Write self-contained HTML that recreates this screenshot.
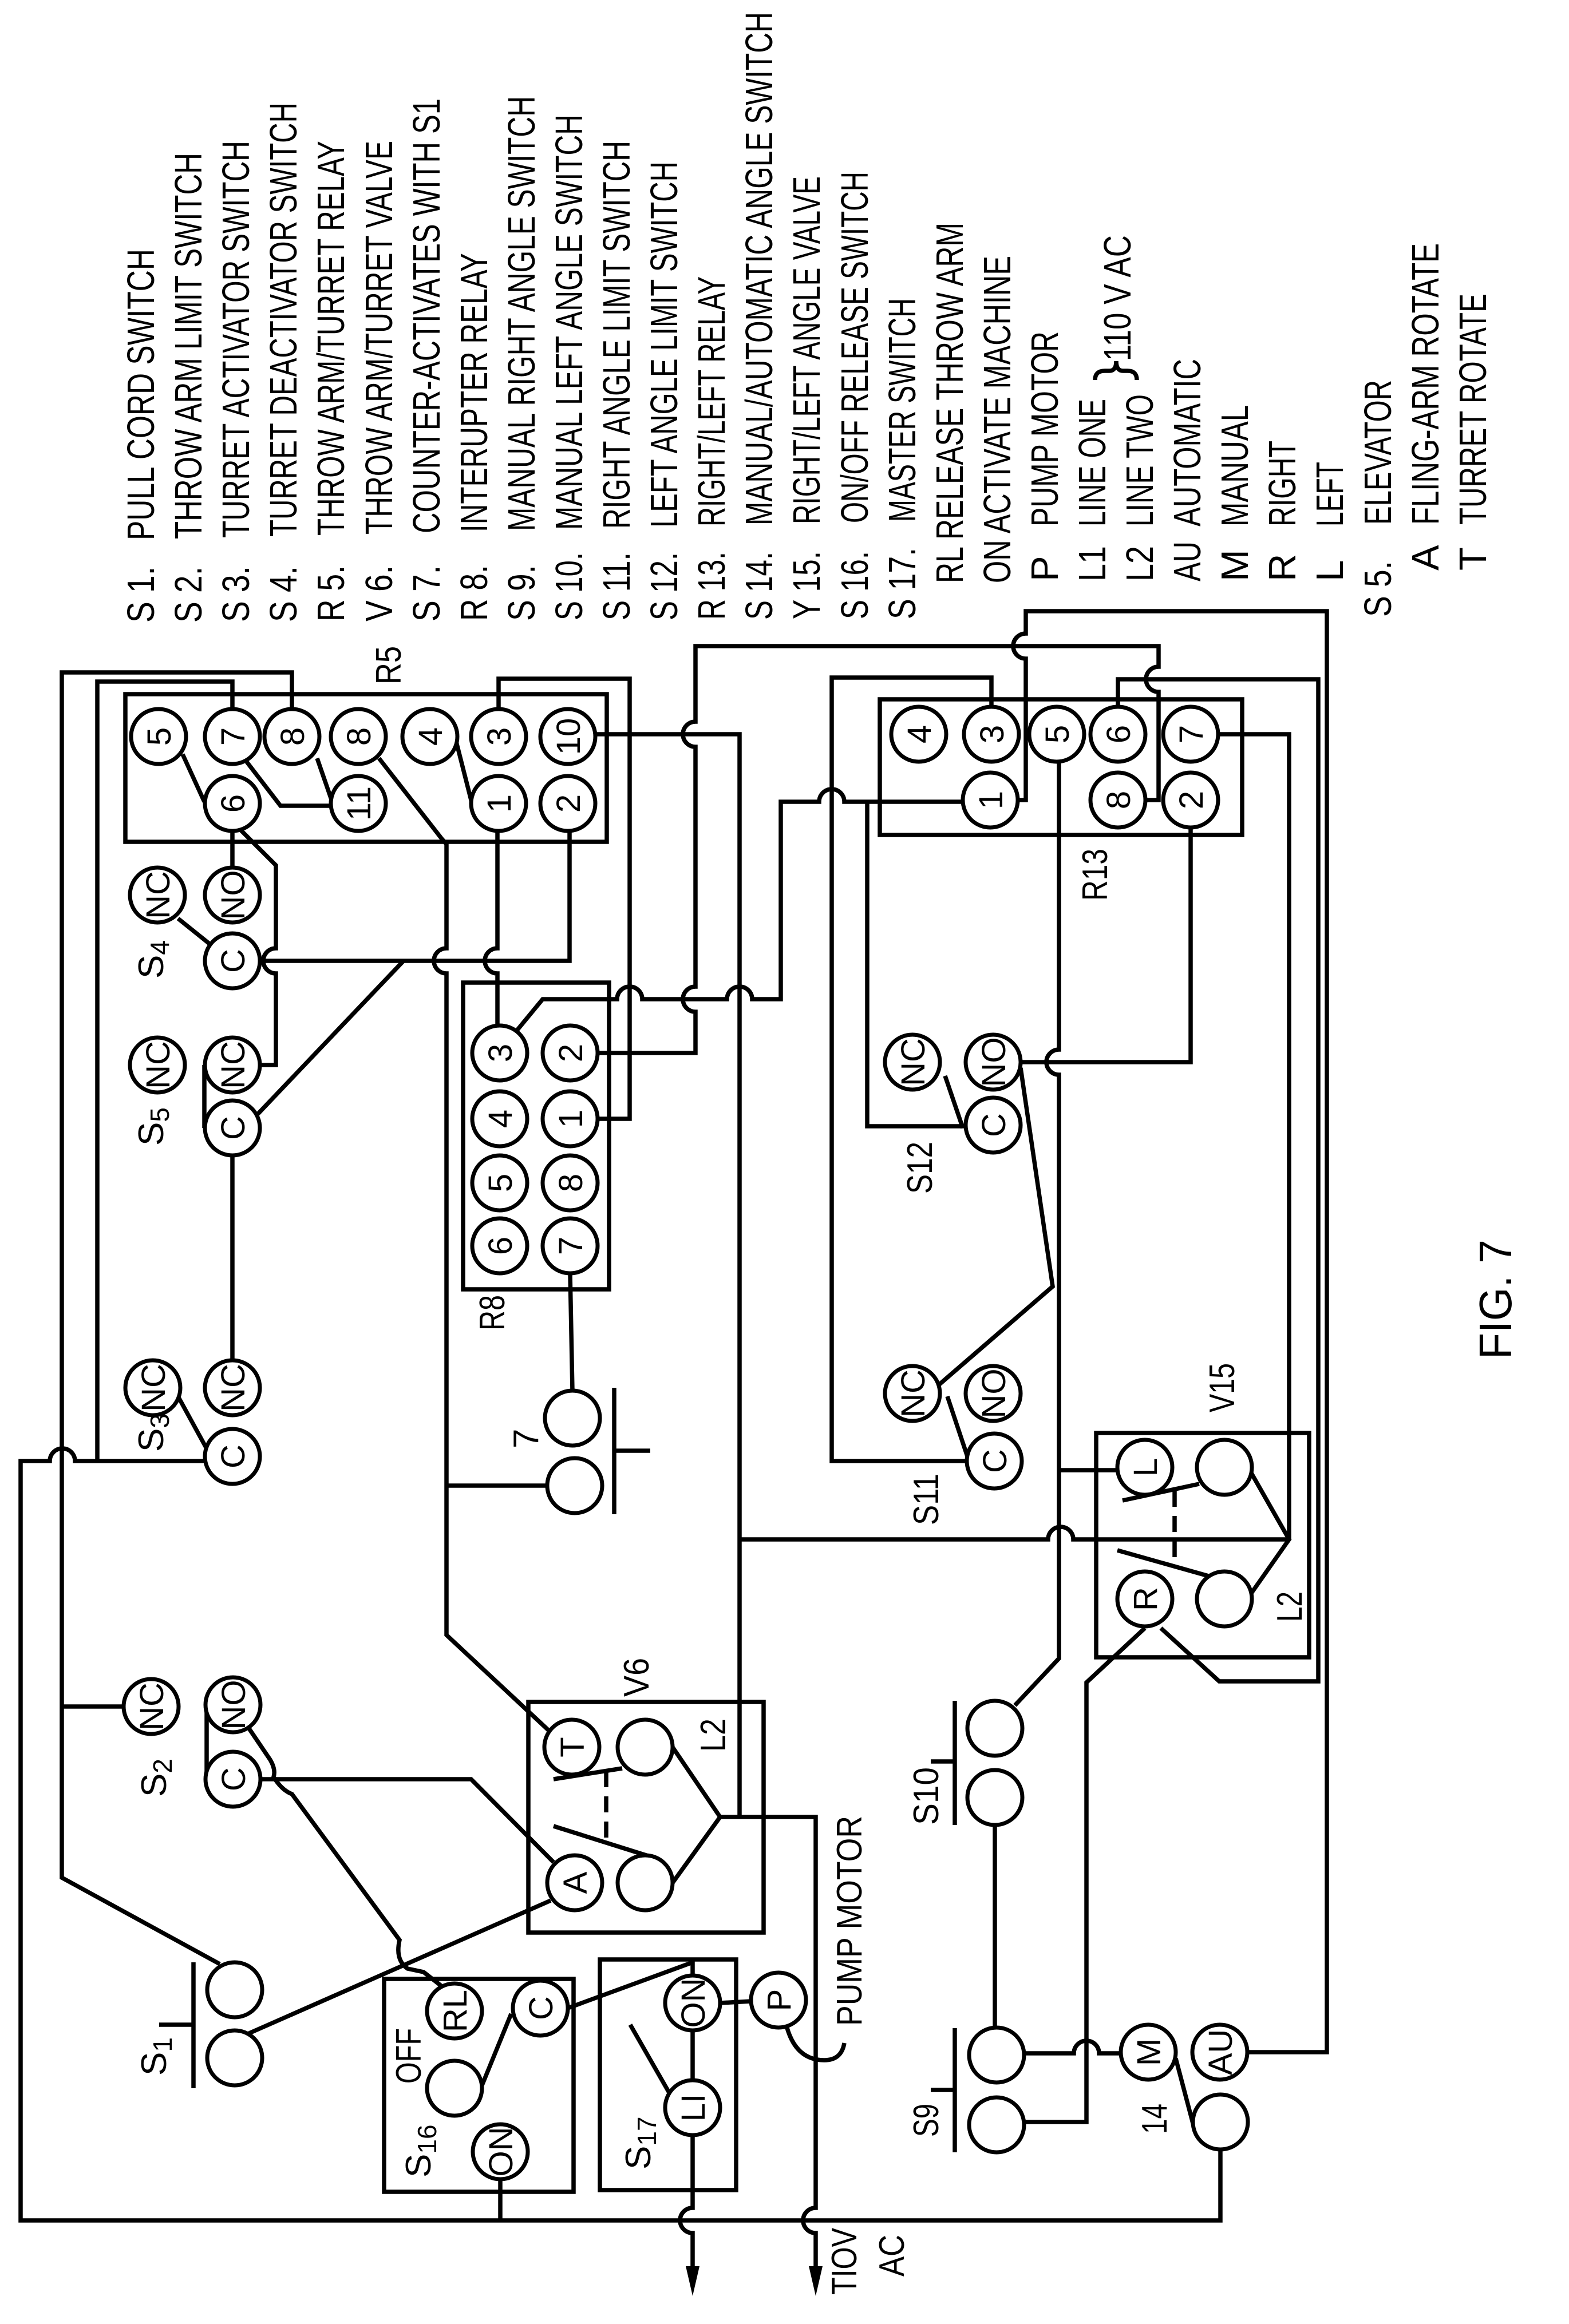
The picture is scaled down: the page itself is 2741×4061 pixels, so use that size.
<!DOCTYPE html>
<html><head><meta charset="utf-8"><style>
html,body{margin:0;padding:0;background:#fff}
svg{display:block}
.w{fill:none;stroke:#000;stroke-width:7.5;stroke-linejoin:miter}
.c{fill:#fff;stroke:#000;stroke-width:7}
text{font-family:"Liberation Sans",sans-serif;fill:#000}
.ct{font-size:58px;text-anchor:middle}
</style></head><body>
<svg width="2741" height="4061" viewBox="0 0 2741 4061" xmlns="http://www.w3.org/2000/svg">
<rect width="2741" height="4061" fill="#fff"/>

<!-- LEGEND -->
<g font-size="67">
<text transform="translate(269,1088) rotate(-90)" textLength="98" lengthAdjust="spacingAndGlyphs">S 1.</text>
<text transform="translate(269,944) rotate(-90)" textLength="509" lengthAdjust="spacingAndGlyphs">PULL CORD SWITCH</text>
<text transform="translate(352,1088) rotate(-90)" textLength="98" lengthAdjust="spacingAndGlyphs">S 2.</text>
<text transform="translate(352,942) rotate(-90)" textLength="675" lengthAdjust="spacingAndGlyphs">THROW ARM LIMIT SWITCH</text>
<text transform="translate(435,1087) rotate(-90)" textLength="98" lengthAdjust="spacingAndGlyphs">S 3.</text>
<text transform="translate(435,940) rotate(-90)" textLength="694" lengthAdjust="spacingAndGlyphs">TURRET ACTIVATOR SWITCH</text>
<text transform="translate(518,1087) rotate(-90)" textLength="98" lengthAdjust="spacingAndGlyphs">S 4.</text>
<text transform="translate(518,938) rotate(-90)" textLength="759" lengthAdjust="spacingAndGlyphs">TURRET DEACTIVATOR SWITCH</text>
<text transform="translate(601,1086) rotate(-90)" textLength="98" lengthAdjust="spacingAndGlyphs">R 5.</text>
<text transform="translate(601,936) rotate(-90)" textLength="690" lengthAdjust="spacingAndGlyphs">THROW ARM/TURRET RELAY</text>
<text transform="translate(685,1086) rotate(-90)" textLength="98" lengthAdjust="spacingAndGlyphs">V 6.</text>
<text transform="translate(685,934) rotate(-90)" textLength="688" lengthAdjust="spacingAndGlyphs">THROW ARM/TURRET VALVE</text>
<text transform="translate(768,1086) rotate(-90)" textLength="98" lengthAdjust="spacingAndGlyphs">S 7.</text>
<text transform="translate(768,932) rotate(-90)" textLength="760" lengthAdjust="spacingAndGlyphs">COUNTER-ACTIVATES WITH S1</text>
<text transform="translate(851,1085) rotate(-90)" textLength="98" lengthAdjust="spacingAndGlyphs">R 8.</text>
<text transform="translate(851,930) rotate(-90)" textLength="488" lengthAdjust="spacingAndGlyphs">INTERUPTER RELAY</text>
<text transform="translate(934,1085) rotate(-90)" textLength="98" lengthAdjust="spacingAndGlyphs">S 9.</text>
<text transform="translate(934,928) rotate(-90)" textLength="760" lengthAdjust="spacingAndGlyphs">MANUAL RIGHT ANGLE SWITCH</text>
<text transform="translate(1017,1084) rotate(-90)" textLength="119" lengthAdjust="spacingAndGlyphs">S 10.</text>
<text transform="translate(1017,926) rotate(-90)" textLength="726" lengthAdjust="spacingAndGlyphs">MANUAL LEFT ANGLE SWITCH</text>
<text transform="translate(1100,1084) rotate(-90)" textLength="119" lengthAdjust="spacingAndGlyphs">S 11.</text>
<text transform="translate(1100,924) rotate(-90)" textLength="678" lengthAdjust="spacingAndGlyphs">RIGHT ANGLE LIMIT SWITCH</text>
<text transform="translate(1183,1084) rotate(-90)" textLength="119" lengthAdjust="spacingAndGlyphs">S 12.</text>
<text transform="translate(1183,922) rotate(-90)" textLength="640" lengthAdjust="spacingAndGlyphs">LEFT ANGLE LIMIT SWITCH</text>
<text transform="translate(1266,1083) rotate(-90)" textLength="119" lengthAdjust="spacingAndGlyphs">R 13.</text>
<text transform="translate(1266,920) rotate(-90)" textLength="437" lengthAdjust="spacingAndGlyphs">RIGHT/LEFT RELAY</text>
<text transform="translate(1349,1083) rotate(-90)" textLength="119" lengthAdjust="spacingAndGlyphs">S 14.</text>
<text transform="translate(1349,918) rotate(-90)" textLength="897" lengthAdjust="spacingAndGlyphs">MANUAL/AUTOMATIC ANGLE SWITCH</text>
<text transform="translate(1432,1082) rotate(-90)" textLength="119" lengthAdjust="spacingAndGlyphs">Y 15.</text>
<text transform="translate(1432,916) rotate(-90)" textLength="608" lengthAdjust="spacingAndGlyphs">RIGHT/LEFT ANGLE VALVE</text>
<text transform="translate(1516,1082) rotate(-90)" textLength="119" lengthAdjust="spacingAndGlyphs">S 16.</text>
<text transform="translate(1516,914) rotate(-90)" textLength="614" lengthAdjust="spacingAndGlyphs">ON/OFF RELEASE SWITCH</text>
<text transform="translate(1599,1082) rotate(-90)" textLength="125" lengthAdjust="spacingAndGlyphs">S 17.</text>
<text transform="translate(1599,912) rotate(-90)" textLength="391" lengthAdjust="spacingAndGlyphs">MASTER SWITCH</text>
<text transform="translate(1682,1019) rotate(-90)" textLength="630" lengthAdjust="spacingAndGlyphs">RL RELEASE THROW ARM</text>
<text transform="translate(1765,1019) rotate(-90)" textLength="572" lengthAdjust="spacingAndGlyphs">ON ACTIVATE MACHINE</text>
<text transform="translate(1848,1016) rotate(-90)">P</text>
<text transform="translate(1848,920) rotate(-90)" textLength="341" lengthAdjust="spacingAndGlyphs">PUMP MOTOR</text>
<text transform="translate(1931,1016) rotate(-90)" textLength="62" lengthAdjust="spacingAndGlyphs">L1</text>
<text transform="translate(1931,920) rotate(-90)" textLength="223" lengthAdjust="spacingAndGlyphs">LINE ONE</text>
<text transform="translate(2014,1016) rotate(-90)" textLength="62" lengthAdjust="spacingAndGlyphs">L2</text>
<text transform="translate(2014,920) rotate(-90)" textLength="231" lengthAdjust="spacingAndGlyphs">LINE TWO</text>
<text transform="translate(1975,631) rotate(-90)" textLength="220" lengthAdjust="spacingAndGlyphs">110 V AC</text>
<text transform="translate(2097,1016) rotate(-90)" textLength="70" lengthAdjust="spacingAndGlyphs">AU</text>
<text transform="translate(2097,920) rotate(-90)" textLength="293" lengthAdjust="spacingAndGlyphs">AUTOMATIC</text>
<text transform="translate(2180,1016) rotate(-90)">M</text>
<text transform="translate(2180,920) rotate(-90)" textLength="212" lengthAdjust="spacingAndGlyphs">MANUAL</text>
<text transform="translate(2263,1016) rotate(-90)">R</text>
<text transform="translate(2263,920) rotate(-90)" textLength="150" lengthAdjust="spacingAndGlyphs">RIGHT</text>
<text transform="translate(2346,1016) rotate(-90)">L</text>
<text transform="translate(2346,920) rotate(-90)" textLength="113" lengthAdjust="spacingAndGlyphs">LEFT</text>
<text transform="translate(2430,1078) rotate(-90)" textLength="98" lengthAdjust="spacingAndGlyphs">S 5.</text>
<text transform="translate(2430,917) rotate(-90)" textLength="253" lengthAdjust="spacingAndGlyphs">ELEVATOR</text>
<text transform="translate(2513,997) rotate(-90)">A</text>
<text transform="translate(2513,917) rotate(-90)" textLength="492" lengthAdjust="spacingAndGlyphs">FLING-ARM ROTATE</text>
<text transform="translate(2596,997) rotate(-90)">T</text>
<text transform="translate(2596,917) rotate(-90)" textLength="404" lengthAdjust="spacingAndGlyphs">TURRET ROTATE</text>
</g>
<path class="w" stroke-width="5" d="M1913,664 Q1913,648 1930,648 L1938,648 Q1950,648 1950,631 Q1950,648 1962,648 L1970,648 Q1986,648 1986,664"/>

<text transform="translate(2640,2375) rotate(-90)" font-size="80" textLength="209" lengthAdjust="spacingAndGlyphs">FIG. 7</text>

<!-- WIRES -->
<g class="w">
<path d="M358,2553 L131,2553 A22,22 0 0 0 87,2553 L36,2553 L36,3880 L2132,3880 L2132,3756"/>
<path d="M510,1239 L510,1175 L108,1175 L108,3281 L384,3432"/>
<path d="M406,1239 L406,1191 L170,1191 L170,2553"/>
<path d="M108,2982 L216,2982"/>
<path d="M311,1605 L367,1650 M406,1452 L406,1516"/>
<path d="M420,1450 L482,1512 L482,1657 A22,22 0 0 0 482,1701 L482,1861 L454,1861"/>
<path d="M454,1679 L995,1679 L995,1452"/>
<path d="M357,1861 L357,1971 M450,1947 L705,1679 M406,2019 L406,2377"/>
<path d="M311,2440 L363,2535"/>
<path d="M319,1318 L357,1401 M430,1330 L490,1408 L578,1408 M554,1325 L582,1406 M797,1296 L825,1406"/>
<path d="M662,1325 L772,1466 L780,1475 L780,1657 A22,22 0 0 0 780,1701 L780,2857 L962,3027"/>
<path d="M871,1239 L871,1186 L1100,1186 L1100,1955 L1044,1955"/>
<path d="M869,1452 L869,1657 A22,22 0 0 0 869,1701 L869,1792"/>
<path d="M1040,1283 L1292,1283 L1292,3175"/>
<path d="M1258,3175 L1425,3175 L1425,3858 A22,22 0 0 0 1425,3902 L1425,3965"/>
<path d="M1292,2690 L1831,2690 A22,22 0 0 1 1875,2690 L2252,2690"/>
<path d="M2001,1398 L2024,1398 L2024,1209 A22,22 0 0 1 2024,1165 L2024,1129 L1215,1129 L1215,1261 A22,22 0 0 0 1215,1305 L1215,1724 A22,22 0 0 0 1215,1768 L1215,1840 L1044,1840"/>
<path d="M901,1803 L948,1746 L1078,1746 A22,22 0 0 1 1122,1746 L1270,1746 A22,22 0 0 1 1314,1746 L1364,1746 L1364,1401 L1431,1401 A22,22 0 0 1 1475,1401 L1682,1401"/>
<path d="M1515,1401 L1515,1968 L1687,1968"/>
<path d="M1732,1235 L1732,1184 L1453,1184 L1453,2553 L1689,2553"/>
<path d="M1778,1398 L1792,1398 L1792,1151 A22,22 0 0 1 1792,1107 L1792,1068 L2318,1068 L2318,3586 L2179,3586"/>
<path d="M1953,1235 L1953,1187 L2303,1187 L2303,2938 L2130,2938 L2028,2845"/>
<path d="M2128,1283 L2252,1283 L2252,2690"/>
<path d="M1850,1331 L1850,1834 A22,22 0 0 0 1850,1878 L1850,2898 L1773,2980 M1850,2569 L1952,2569"/>
<path d="M2080,1446 L2080,1856 L1783,1856"/>
<path d="M1651,1880 L1682,1971 M1783,1866 L1839,2248 L1640,2420 M1655,2440 L1690,2545"/>
<path d="M2186,2574 L2252,2690 L2186,2784 M1961,2622 L2095,2593 M1952,2709 L2115,2755"/>
<path d="M2052,2605 L2052,2740" stroke-dasharray="28,16"/>
<path d="M2000,2845 L1898,2940 L1898,3708 L1789,3708"/>
<path d="M1789,3588 L1876,3588 A22,22 0 0 1 1920,3588 L1958,3588"/>
<path d="M1738,3189 L1738,3543"/>
<path d="M1668,2972 L1668,3189 M1626,3078 L1668,3078 M1668,3544 L1668,3761 M1626,3652 L1668,3652"/>
<path d="M2054,3597 L2086,3718"/>
<path d="M782,2596 L956,2596 M996,2225 L1000,2430 M1073,2425 L1073,2646 M1073,2535 L1136,2535"/>
<path d="M1175,3053 L1258,3175 L1175,3290 M967,3109 L1087,3090 M967,3191 L1129,3242"/>
<path d="M1059,3095 L1059,3225" stroke-dasharray="28,16"/>
<path d="M361,2979 L361,3109 M455,3109 L823,3109 L967,3254"/>
<path d="M430,3013 L472,3075 Q482,3092 478,3105 Q492,3128 510,3135 L698,3390 Q690,3425 712,3440 L740,3446 L772,3471"/>
<path d="M435,3553 L962,3321"/>
<path d="M338,3429 L338,3649 M278,3538 L338,3538"/>
<path d="M893,3519 L842,3644 M874,3808 L874,3880 M992,3509 L1210,3429 L1210,3452"/>
<path d="M1101,3538 L1184,3683 M1210,3548 L1210,3635 M1210,3731 L1210,3858 A22,22 0 0 0 1210,3902 L1210,3965"/>
<path d="M1258,3500 L1312,3497 M1374,3540 Q1390,3600 1440,3600 Q1470,3600 1475,3570"/>
</g>
<polygon points="1198,3960 1222,3960 1210,4012" fill="#000"/>
<polygon points="1413,3960 1437,3960 1425,4012" fill="#000"/>

<!-- BOXES -->
<g class="w">
<rect x="219" y="1213" width="841" height="258"/>
<rect x="809" y="1717" width="255" height="536"/>
<rect x="923" y="2974" width="411" height="403"/>
<rect x="671" y="3458" width="331" height="372"/>
<rect x="1048" y="3424" width="238" height="403"/>
<rect x="1537" y="1222" width="633" height="237"/>
<rect x="1915" y="2504" width="372" height="392"/>
</g>

<!-- CIRCLES -->
<g class="c">
<circle cx="277" cy="1287" r="48"/><circle cx="406" cy="1287" r="48"/><circle cx="510" cy="1287" r="48"/><circle cx="626" cy="1287" r="48"/><circle cx="751" cy="1287" r="48"/><circle cx="871" cy="1287" r="48"/><circle cx="992" cy="1287" r="48"/>
<circle cx="406" cy="1404" r="48"/><circle cx="626" cy="1404" r="48"/><circle cx="871" cy="1404" r="48"/><circle cx="992" cy="1404" r="48"/>
<circle cx="275" cy="1564" r="48"/><circle cx="406" cy="1564" r="48"/><circle cx="406" cy="1679" r="48"/>
<circle cx="275" cy="1861" r="48"/><circle cx="406" cy="1861" r="48"/><circle cx="406" cy="1971" r="48"/>
<circle cx="267" cy="2425" r="48"/><circle cx="406" cy="2425" r="48"/><circle cx="406" cy="2545" r="48"/>
<circle cx="873" cy="1840" r="48"/><circle cx="873" cy="1955" r="48"/><circle cx="873" cy="2067" r="48"/><circle cx="873" cy="2177" r="48"/>
<circle cx="996" cy="1840" r="48"/><circle cx="996" cy="1955" r="48"/><circle cx="996" cy="2067" r="48"/><circle cx="996" cy="2177" r="48"/>
<circle cx="1000" cy="2478" r="48"/><circle cx="1004" cy="2596" r="48"/>
<circle cx="264" cy="2982" r="48"/><circle cx="407" cy="2979" r="48"/><circle cx="407" cy="3109" r="48"/>
<circle cx="410" cy="3477" r="48"/><circle cx="410" cy="3596" r="48"/>
<circle cx="999" cy="3053" r="48"/><circle cx="1127" cy="3053" r="48"/><circle cx="1004" cy="3290" r="48"/><circle cx="1127" cy="3290" r="48"/>
<circle cx="794" cy="3514" r="48"/><circle cx="944" cy="3509" r="48"/><circle cx="794" cy="3649" r="48"/><circle cx="874" cy="3760" r="48"/>
<circle cx="1210" cy="3500" r="48"/><circle cx="1210" cy="3683" r="48"/><circle cx="1360" cy="3495" r="48"/>
<circle cx="1605" cy="1283" r="48"/><circle cx="1732" cy="1283" r="48"/><circle cx="1846" cy="1283" r="48"/><circle cx="1953" cy="1283" r="48"/><circle cx="2080" cy="1283" r="48"/>
<circle cx="1730" cy="1398" r="48"/><circle cx="1953" cy="1398" r="48"/><circle cx="2080" cy="1398" r="48"/>
<circle cx="1594" cy="1856" r="48"/><circle cx="1735" cy="1856" r="48"/><circle cx="1735" cy="1966" r="48"/>
<circle cx="1594" cy="2435" r="48"/><circle cx="1735" cy="2435" r="48"/><circle cx="1737" cy="2553" r="48"/>
<circle cx="2000" cy="2564" r="48"/><circle cx="2139" cy="2564" r="48"/><circle cx="2000" cy="2794" r="48"/><circle cx="2139" cy="2794" r="48"/>
<circle cx="1738" cy="3020" r="48"/><circle cx="1738" cy="3141" r="48"/>
<circle cx="1741" cy="3591" r="48"/><circle cx="1741" cy="3713" r="48"/>
<circle cx="2006" cy="3586" r="48"/><circle cx="2131" cy="3586" r="48"/><circle cx="2132" cy="3708" r="48"/>
</g>

<!-- CIRCLE LABELS -->
<g class="ct">
<text transform="translate(277,1287) rotate(-90)" y="21">5</text>
<text transform="translate(406,1287) rotate(-90)" y="21">7</text>
<text transform="translate(510,1287) rotate(-90)" y="21">8</text>
<text transform="translate(626,1287) rotate(-90)" y="21">8</text>
<text transform="translate(751,1287) rotate(-90)" y="21">4</text>
<text transform="translate(871,1287) rotate(-90)" y="21">3</text>
<text transform="translate(992,1287) rotate(-90)" y="21">10</text>
<text transform="translate(406,1404) rotate(-90)" y="21">6</text>
<text transform="translate(626,1404) rotate(-90)" y="21">11</text>
<text transform="translate(871,1404) rotate(-90)" y="21">1</text>
<text transform="translate(992,1404) rotate(-90)" y="21">2</text>
<text transform="translate(275,1564) rotate(-90)" y="21">NC</text>
<text transform="translate(406,1564) rotate(-90)" y="21">NO</text>
<text transform="translate(406,1679) rotate(-90)" y="21">C</text>
<text transform="translate(275,1861) rotate(-90)" y="21">NC</text>
<text transform="translate(406,1861) rotate(-90)" y="21">NC</text>
<text transform="translate(406,1971) rotate(-90)" y="21">C</text>
<text transform="translate(267,2425) rotate(-90)" y="21">NC</text>
<text transform="translate(406,2425) rotate(-90)" y="21">NC</text>
<text transform="translate(406,2545) rotate(-90)" y="21">C</text>
<text transform="translate(873,1840) rotate(-90)" y="21">3</text>
<text transform="translate(873,1955) rotate(-90)" y="21">4</text>
<text transform="translate(873,2067) rotate(-90)" y="21">5</text>
<text transform="translate(873,2177) rotate(-90)" y="21">6</text>
<text transform="translate(996,1840) rotate(-90)" y="21">2</text>
<text transform="translate(996,1955) rotate(-90)" y="21">1</text>
<text transform="translate(996,2067) rotate(-90)" y="21">8</text>
<text transform="translate(996,2177) rotate(-90)" y="21">7</text>
<text transform="translate(264,2982) rotate(-90)" y="21">NC</text>
<text transform="translate(407,2979) rotate(-90)" y="21">NO</text>
<text transform="translate(407,3109) rotate(-90)" y="21">C</text>
<text transform="translate(999,3053) rotate(-90)" y="21">T</text>
<text transform="translate(1004,3290) rotate(-90)" y="21">A</text>
<text transform="translate(794,3514) rotate(-90)" y="21">RL</text>
<text transform="translate(944,3509) rotate(-90)" y="21">C</text>
<text transform="translate(874,3760) rotate(-90)" y="21">ON</text>
<text transform="translate(1210,3500) rotate(-90)" y="21">ON</text>
<text transform="translate(1210,3683) rotate(-90)" y="21">LI</text>
<text transform="translate(1360,3495) rotate(-90)" y="21">P</text>
<text transform="translate(1605,1283) rotate(-90)" y="21">4</text>
<text transform="translate(1732,1283) rotate(-90)" y="21">3</text>
<text transform="translate(1846,1283) rotate(-90)" y="21">5</text>
<text transform="translate(1953,1283) rotate(-90)" y="21">6</text>
<text transform="translate(2080,1283) rotate(-90)" y="21">7</text>
<text transform="translate(1730,1398) rotate(-90)" y="21">1</text>
<text transform="translate(1953,1398) rotate(-90)" y="21">8</text>
<text transform="translate(2080,1398) rotate(-90)" y="21">2</text>
<text transform="translate(1594,1856) rotate(-90)" y="21">NC</text>
<text transform="translate(1735,1856) rotate(-90)" y="21">NO</text>
<text transform="translate(1735,1966) rotate(-90)" y="21">C</text>
<text transform="translate(1594,2435) rotate(-90)" y="21">NC</text>
<text transform="translate(1735,2435) rotate(-90)" y="21">NO</text>
<text transform="translate(1737,2553) rotate(-90)" y="21">C</text>
<text transform="translate(2000,2564) rotate(-90)" y="21">L</text>
<text transform="translate(2000,2794) rotate(-90)" y="21">R</text>
<text transform="translate(2006,3586) rotate(-90)" y="21">M</text>
<text transform="translate(2131,3586) rotate(-90)" y="21">AU</text>
</g>

<!-- COMPONENT LABELS -->
<g font-size="62">
<text transform="translate(285,1710) rotate(-90)">S<tspan font-size="46" dy="10">4</tspan></text>
<text transform="translate(285,2002) rotate(-90)">S<tspan font-size="46" dy="10">5</tspan></text>
<text transform="translate(285,2537) rotate(-90)">S<tspan font-size="46" dy="10">3</tspan></text>
<text transform="translate(290,3140) rotate(-90)">S<tspan font-size="46" dy="10">2</tspan></text>
<text transform="translate(290,3627) rotate(-90)">S<tspan font-size="46" dy="10">1</tspan></text>
<text transform="translate(752,3805) rotate(-90)">S<tspan font-size="46" dy="10">16</tspan></text>
<text transform="translate(1136,3791) rotate(-90)">S<tspan font-size="46" dy="10">17</tspan></text>
<text transform="translate(735,3641) rotate(-90)" textLength="97" lengthAdjust="spacingAndGlyphs">OFF</text>
<text transform="translate(700,1196) rotate(-90)" textLength="67" lengthAdjust="spacingAndGlyphs">R5</text>
<text transform="translate(881,2325) rotate(-90)" textLength="62" lengthAdjust="spacingAndGlyphs">R8</text>
<text transform="translate(940,2531) rotate(-90)">7</text>
<text transform="translate(1133,2965) rotate(-90)" textLength="68" lengthAdjust="spacingAndGlyphs">V6</text>
<text transform="translate(1267,3061) rotate(-90)" textLength="58" lengthAdjust="spacingAndGlyphs">L2</text>
<text transform="translate(1934,1574) rotate(-90)" textLength="91" lengthAdjust="spacingAndGlyphs">R13</text>
<text transform="translate(1628,2086) rotate(-90)" textLength="91" lengthAdjust="spacingAndGlyphs">S12</text>
<text transform="translate(1639,2665) rotate(-90)" textLength="90" lengthAdjust="spacingAndGlyphs">S11</text>
<text transform="translate(2156,2468) rotate(-90)" textLength="86" lengthAdjust="spacingAndGlyphs">V15</text>
<text transform="translate(2274,2834) rotate(-90)" textLength="53" lengthAdjust="spacingAndGlyphs">L2</text>
<text transform="translate(1639,3189) rotate(-90)" textLength="101" lengthAdjust="spacingAndGlyphs">S10</text>
<text transform="translate(1639,3734) rotate(-90)" textLength="58" lengthAdjust="spacingAndGlyphs">S9</text>
<text transform="translate(2038,3729) rotate(-90)" textLength="53" lengthAdjust="spacingAndGlyphs">14</text>
<text transform="translate(1505,3540) rotate(-90)" textLength="367" lengthAdjust="spacingAndGlyphs">PUMP MOTOR</text>
<text transform="translate(1496,4010) rotate(-90)" textLength="117" lengthAdjust="spacingAndGlyphs">TIOV</text>
<text transform="translate(1579,3978) rotate(-90)" textLength="73" lengthAdjust="spacingAndGlyphs">AC</text>
</g>
</svg>
</body></html>
